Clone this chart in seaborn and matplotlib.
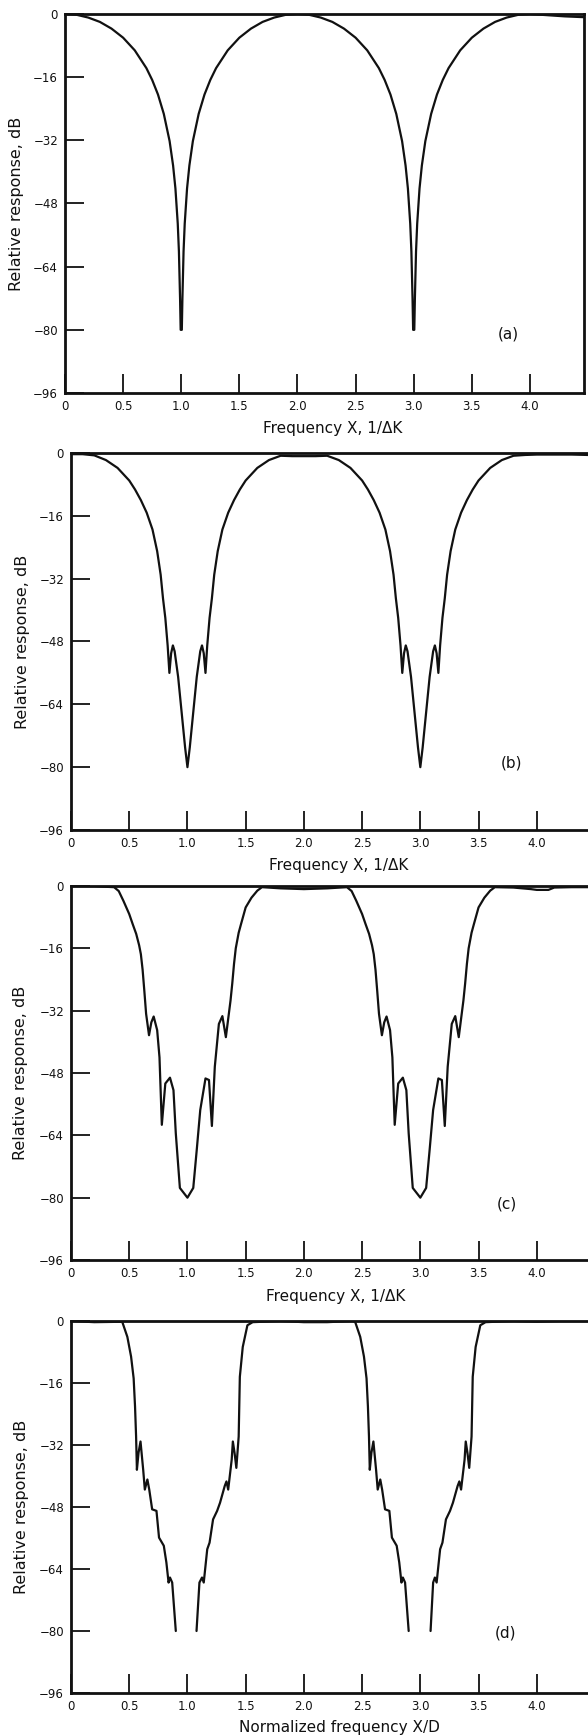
import numpy as np
import pandas as pd
import matplotlib
matplotlib.use("Agg")
import matplotlib.pyplot as plt
import matplotlib.transforms as mtransforms
import seaborn as sns

sns.set_style("ticks")
plt.rcParams["font.family"] = ["DejaVu Sans"]

# ---- data (dB vs frequency) ----
# (a)
xa = [0, 0.1, 0.2, 0.3, 0.4, 0.5, 0.6, 0.7, 0.75, 0.8, 0.85, 0.9, 0.93, 0.95, 0.97, 0.98, 0.99, 0.995,
      1.0, 1.005, 1.01, 1.02, 1.03, 1.05, 1.07, 1.1, 1.15, 1.2, 1.25, 1.3, 1.4, 1.5, 1.6, 1.7, 1.8, 1.9,
      2.0, 2.1, 2.2, 2.3, 2.4, 2.5, 2.6, 2.7, 2.75, 2.8, 2.85, 2.9, 2.93, 2.95, 2.97, 2.98, 2.99, 2.995,
      3.0, 3.005, 3.01, 3.02, 3.03, 3.05, 3.07, 3.1, 3.15, 3.2, 3.25, 3.3, 3.4, 3.5, 3.6, 3.7, 3.8, 3.9,
      4.0, 4.1, 4.2, 4.3, 4.46]
ya = [0, -0.2, -0.9, -2.0, -3.7, -6.0, -9.2, -13.7, -16.7, -20.4, -25.3, -32.2, -38.4, -44.2, -53.1, -60.1, -72.2, -80,
      -80, -80, -72.2, -60.1, -53.1, -44.2, -38.4, -32.2, -25.3, -20.4, -16.7, -13.7, -9.2, -6.0, -3.7, -2.0, -0.9, -0.2,
      0, -0.2, -0.9, -2.0, -3.7, -6.0, -9.2, -13.7, -16.7, -20.4, -25.3, -32.2, -38.4, -44.2, -53.1, -60.1, -72.2, -80,
      -80, -80, -72.2, -60.1, -53.1, -44.2, -38.4, -32.2, -25.3, -20.4, -16.7, -13.7, -9.2, -6.0, -3.7, -2.0, -0.9, -0.2,
      0, -0.2, -0.4, -0.6, -0.8]

# (b)
xb = [0, 0.1, 0.2, 0.3, 0.4, 0.5, 0.55, 0.6, 0.65, 0.7, 0.74, 0.77, 0.79, 0.81, 0.83, 0.845, 0.86, 0.875, 0.89,
      0.92, 0.95, 0.98, 1.0, 1.02, 1.05, 1.08, 1.11, 1.125, 1.14, 1.155, 1.17, 1.19, 1.21, 1.23, 1.26, 1.3,
      1.35, 1.4, 1.45, 1.5, 1.6, 1.7, 1.8, 1.9, 2.0, 2.1, 2.2, 2.3, 2.4, 2.5, 2.55, 2.6, 2.65, 2.7, 2.74,
      2.77, 2.79, 2.81, 2.83, 2.845, 2.86, 2.875, 2.89, 2.92, 2.95, 2.98, 3.0, 3.02, 3.05, 3.08, 3.11, 3.125,
      3.14, 3.155, 3.17, 3.19, 3.21, 3.23, 3.26, 3.3, 3.35, 3.4, 3.45, 3.5, 3.6, 3.7, 3.8, 3.9, 4.0, 4.1,
      4.2, 4.3, 4.44]
yb = [-0.3, -0.3, -0.6, -1.8, -3.8, -7.0, -9.3, -12.0, -15.2, -19.5, -25, -31, -37, -42, -49, -56, -51, -49, -50.5,
      -57, -66, -75, -80, -75, -66, -57, -50.5, -49, -51, -56, -49, -42, -37, -31, -25, -19.5,
      -15.2, -12, -9.3, -7, -3.8, -1.8, -0.7, -0.8, -0.8, -0.8, -0.7, -1.8, -3.8, -7, -9.3, -12, -15.2, -19.5, -25,
      -31, -37, -42, -49, -56, -51, -49, -50.5, -57, -66, -75, -80, -75, -66, -57, -50.5, -49,
      -51, -56, -49, -42, -37, -31, -25, -19.5, -15.2, -12, -9.3, -7, -3.8, -1.8, -0.7, -0.5, -0.4, -0.4,
      -0.4, -0.4, -0.5]

# (c)
xc = [0, 0.1, 0.2, 0.3, 0.37,
      0.41, 0.45, 0.5, 0.53, 0.56, 0.585, 0.6, 0.615, 0.63, 0.645,
      0.67, 0.69, 0.71, 0.74, 0.76, 0.78, 0.81, 0.85, 0.88, 0.9, 0.935, 1.0,
      1.05, 1.08, 1.11, 1.155, 1.185, 1.21, 1.235, 1.27, 1.3, 1.33,
      1.37, 1.385, 1.4, 1.415, 1.44, 1.46, 1.5, 1.55, 1.6, 1.64,
      1.8, 2.0, 2.2, 2.37,
      2.41, 2.45, 2.5, 2.53, 2.56, 2.585, 2.6, 2.615, 2.63, 2.645,
      2.67, 2.69, 2.71, 2.74, 2.76, 2.78, 2.81, 2.85, 2.88, 2.9, 2.935, 3.0,
      3.05, 3.08, 3.11, 3.155, 3.185, 3.21, 3.235, 3.27, 3.3, 3.33,
      3.37, 3.385, 3.4, 3.415, 3.44, 3.46, 3.5, 3.55, 3.6, 3.64,
      3.8, 3.95, 4.0, 4.1, 4.15, 4.3, 4.44]
yc = [0, 0, 0, -0.2, -0.3,
      -1.3, -3.8, -7.2, -9.8, -12.3, -15.2, -17.5, -21.5, -27, -32.8,
      -38.3, -35, -33.5, -37, -44, -61.3, -50.7, -49.2, -52.4, -63.5, -77.5, -80,
      -77.5, -67.7, -57.5, -49.4, -49.8, -61.6, -46.4, -35.4, -33.4, -38.8,
      -29.4, -25, -20, -16, -12, -9.8, -5.5, -3.0, -1.2, -0.3,
      -0.6, -0.8, -0.6, -0.3,
      -1.3, -3.8, -7.2, -9.8, -12.3, -15.2, -17.5, -21.5, -27, -32.8,
      -38.3, -35, -33.5, -37, -44, -61.3, -50.7, -49.2, -52.4, -63.5, -77.5, -80,
      -77.5, -67.7, -57.5, -49.4, -49.8, -61.6, -46.4, -35.4, -33.4, -38.8,
      -29.4, -25, -20, -16, -12, -9.8, -5.5, -3.0, -1.2, -0.3,
      -0.4, -0.8, -1.0, -1.0, -0.4, -0.3, -0.3]

# (d) - curve is broken below -80 dB, so three pieces
xd1 = [0, 0.2, 0.44, 0.484, 0.516, 0.538, 0.55, 0.559, 0.566, 0.58, 0.597, 0.62, 0.634, 0.656, 0.672, 0.697,
       0.734, 0.756, 0.797, 0.819, 0.838, 0.85, 0.869, 0.9]
yd1 = [0, -0.3, -0.2, -4.1, -9.2, -14.8, -22.1, -29.8, -38.4, -34, -31.1, -38.4, -43.5, -40.9, -43.5, -48.6,
       -49, -55.9, -58, -62.3, -67.5, -66.2, -67.5, -80]
xd2 = [1.078, 1.103, 1.125, 1.14, 1.17, 1.19, 1.22, 1.255, 1.28, 1.32, 1.335, 1.35, 1.38, 1.39, 1.405, 1.42,
       1.44, 1.45, 1.475, 1.515, 1.56, 1.8, 2.0, 2.2, 2.42, 2.44, 2.484, 2.516, 2.538, 2.55, 2.559, 2.566,
       2.58, 2.597, 2.62, 2.634, 2.656, 2.672, 2.697, 2.734, 2.756, 2.797, 2.819, 2.838, 2.85, 2.869, 2.9]
yd2 = [-80, -67.5, -66.2, -67.5, -58.9, -57.2, -51.2, -49, -46.9, -42.6, -41.4, -43.5, -35.8, -31.1, -34.1, -37.9,
       -29.8, -14.4, -6.7, -1.1, -0.3, 0, -0.3, -0.3, 0, -0.2, -4.1, -9.2, -14.8, -22.1, -29.8, -38.4,
       -34, -31.1, -38.4, -43.5, -40.9, -43.5, -48.6, -49, -55.9, -58, -62.3, -67.5, -66.2, -67.5, -80]
xd3 = [3.088, 3.11, 3.125, 3.14, 3.17, 3.19, 3.22, 3.255, 3.28, 3.32, 3.335, 3.35, 3.38, 3.39, 3.405, 3.42,
       3.44, 3.45, 3.475, 3.515, 3.56, 3.8, 4.0, 4.2, 4.44]
yd3 = [-80, -67.5, -66.2, -67.5, -58.9, -57.2, -51.2, -49, -46.9, -42.6, -41.4, -43.5, -35.8, -31.1, -34.1, -37.9,
       -29.8, -14.4, -6.7, -1.1, -0.3, 0, -0.2, 0, 0]

x_ticks = [0, 0.5, 1.0, 1.5, 2.0, 2.5, 3.0, 3.5, 4.0]
x_tick_labels = ["0", "0.5", "1.0", "1.5", "2.0", "2.5", "3.0", "3.5", "4.0"]
y_ticks = [0, -16, -32, -48, -64, -80, -96]
y_tick_labels = ["0", "\u221216", "\u221232", "\u221248", "\u221264", "\u221280", "\u221296"]

df_a = pd.DataFrame({"x": xa, "y": ya})
df_b = pd.DataFrame({"x": xb, "y": yb})
df_c = pd.DataFrame({"x": xc, "y": yc})
df_d = pd.concat([
    pd.DataFrame({"x": xd1, "y": yd1, "seg": 1}),
    pd.DataFrame({"x": xd2, "y": yd2, "seg": 2}),
    pd.DataFrame({"x": xd3, "y": yd3, "seg": 3}),
], ignore_index=True)

W, H = 588, 1735
INK = "#111111"
fig = plt.figure(figsize=(W / 100, H / 100), dpi=100)


def make_axes(left, right, top, bottom):
    return fig.add_axes([left / W, 1 - bottom / H, (right - left) / W, (bottom - top) / H])


def style_axes(ax, xmax, right_spine):
    ax.set_xlim(0, xmax)
    ax.set_ylim(-96, 0)
    ax.set_xticks(x_ticks)
    ax.set_xticklabels(x_tick_labels)
    ax.set_yticks(y_ticks)
    ax.set_yticklabels(y_tick_labels)
    ax.tick_params(direction="in", length=14, width=1.3, labelsize=8.5, pad=5,
                   color=INK, labelcolor=INK)
    for s in ax.spines.values():
        s.set_linewidth(2.0)
        s.set_color(INK)
    ax.spines["right"].set_visible(right_spine)


def add_labels(ax, xlabel, xl_px, xl_py, yl_px, letter, lx, ly):
    ax.set_xlabel(xlabel, fontsize=11, color=INK)
    ax.xaxis.set_label_coords(xl_px / W, 1 - xl_py / H, transform=fig.transFigure)
    ax.xaxis.label.set_va("center")
    ax.set_ylabel("Relative response, dB", fontsize=11.5, color=INK)
    tr = mtransforms.blended_transform_factory(fig.transFigure, ax.transAxes)
    ax.yaxis.set_label_coords(yl_px / W, 0.5, transform=tr)
    ax.yaxis.label.set_va("center")
    ax.text(lx, ly, letter, ha="center", va="center", fontsize=11, color=INK)


# panel (a)
ax = make_axes(65, 584, 14, 393)
sns.lineplot(data=df_a, x="x", y="y", color=INK, linewidth=1.6, ax=ax)
style_axes(ax, 4.465, True)
add_labels(ax, "Frequency X, 1/\u0394K", 333, 428, 17, "(a)", 3.81, -81)

# panel (b)
ax = make_axes(71, 588, 453, 830)
sns.lineplot(data=df_b, x="x", y="y", color=INK, linewidth=1.6, ax=ax)
style_axes(ax, 4.44, False)
add_labels(ax, "Frequency X, 1/\u0394K", 339, 865, 23, "(b)", 3.78, -79)

# panel (c)
ax = make_axes(71, 588, 886, 1260)
sns.lineplot(data=df_c, x="x", y="y", color=INK, linewidth=1.6, ax=ax)
style_axes(ax, 4.44, False)
add_labels(ax, "Frequency X, 1/\u0394K", 336, 1296, 21, "(c)", 3.74, -81.5)

# panel (d)
ax = make_axes(71, 588, 1321, 1693)
sns.lineplot(data=df_d, x="x", y="y", units="seg", estimator=None, color=INK, linewidth=1.6, ax=ax)
style_axes(ax, 4.44, False)
add_labels(ax, "Normalized frequency X/D", 339, 1727, 22, "(d)", 3.73, -80.5)

fig.savefig("out.png", dpi=100)
